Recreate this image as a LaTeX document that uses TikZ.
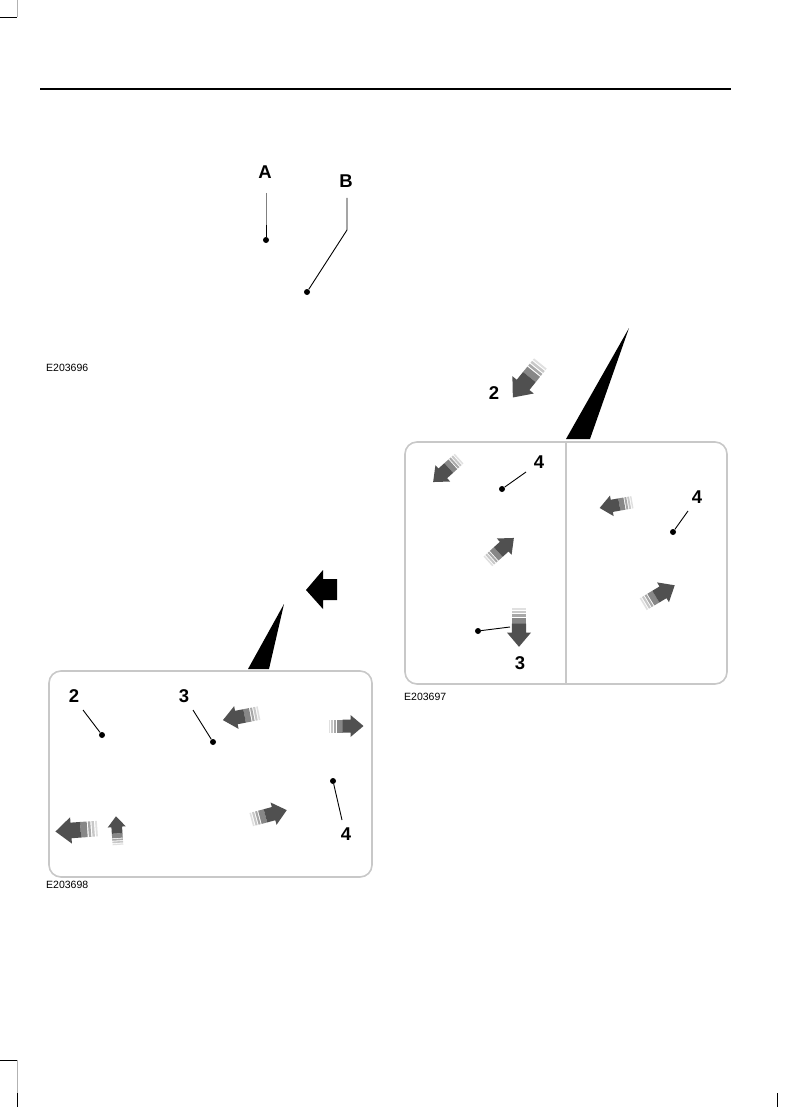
\documentclass[tikz,border=0pt]{standalone}
\usepackage{fontspec}
\setmainfont{Liberation Sans}
\definecolor{adark}{HTML}{505050}
\definecolor{amid}{HTML}{878787}
\definecolor{alight}{HTML}{A8A8A8}
\definecolor{alighter}{HTML}{C8C8C8}
\definecolor{afaint}{HTML}{E0E0E0}
\definecolor{panelgray}{HTML}{C8C8C8}
\tikzset{
  sarrow/.pic={
    \fill[afaint] (-17,-6.5) rectangle (-15.5,6.5);
    \fill[alighter] (-14.5,-6.5) rectangle (-12.5,6.5);
    \fill[alight] (-11.5,-6.5) rectangle (-9.5,6.5);
    \fill[amid] (-8.5,-6.5) rectangle (-3,6.5);
    \fill[adark] (-3,-6.5) -- (5,-6.5) -- (5,-11) -- (18,0) -- (5,11) -- (5,6.5) -- (-3,6.5) -- cycle;
  }
}
\begin{document}
\begin{tikzpicture}[x=1pt,y=-1pt,
  lab/.style={font=\fontsize{18.5}{21}\selectfont\bfseries, inner sep=0pt},
  code/.style={font=\fontsize{10.5}{12}\selectfont, inner sep=0pt, anchor=west},
  dot/.style={circle, fill=black, inner sep=0pt, minimum size=6pt},
  lead/.style={line width=0.9pt},
  panel/.style={draw=panelgray, line width=1.6pt, rounded corners=12pt},
  wedge/.style={fill=black},
  crop/.style={line width=0.8pt}]
\useasboundingbox (0,0) rectangle (795,1107);
\fill[white] (0,0) rectangle (795,1107);

% crop marks and header rule
\draw[crop] (0,17) -- (17,17);
\draw[gray!60, line width=0.4pt] (17,0) -- (17,17);
\draw[crop] (0,1060) -- (17,1060);
\draw[gray!60, line width=0.4pt] (17,1060) -- (17,1107);
\draw[crop] (17,1093) -- (17,1107);
\draw[crop] (777,1093) -- (777,1107);
\draw[line width=1.3pt] (40,89) -- (731,89);

% ---- figure E203696 ----
\node[lab] (lA) at (265,172) {A};
\node[lab] (lB) at (346,181) {B};
\node[dot] (dA) at (266,240) {};
\node[dot] (dB) at (307,292) {};
\coordinate (cA) at (266,193);
\coordinate (cAm) at (266,225);
\coordinate (cB) at (347,198);
\coordinate (cBk) at (347,230);
\draw[lead, gray] (cA) -- (cAm);
\draw[lead] (cAm) -- (dA);
\draw[lead] (cB) -- (cBk) -- (dB);
\node[code] (e1) at (46,368) {E203696};

% ---- figure E203697 (right) ----
\fill[wedge] (629,328) -- (590,439) -- (566,439) -- cycle;
\pic[rotate=231, scale=1.25] at (527,380) {sarrow};
\node[lab] (r2) at (494,393) {2};
\draw[panel] (405,442) rectangle (727,684);
\draw[draw=panelgray, line width=1.6pt] (566,442) -- (566,684);
\pic[rotate=222] at (446.5,470) {sarrow};
\pic[rotate=42] at (500.5,550) {sarrow};
\pic[rotate=270, scale=1.1] at (519,627) {sarrow};
\pic[rotate=190, scale=0.95] at (616.5,505) {sarrow};
\pic[rotate=31, scale=1.05] at (658.5,595) {sarrow};
\node[lab] (r4a) at (539,462) {4};
\node[dot] (rd4a) at (502,489) {};
\coordinate (rc4a) at (526,472);
\draw[lead] (rc4a) -- (rd4a);
\node[lab] (r4b) at (697,497) {4};
\node[dot] (rd4b) at (673,532) {};
\coordinate (rc4b) at (688,511);
\draw[lead] (rc4b) -- (rd4b);
\node[lab] (r3) at (520,663) {3};
\node[dot] (rd3) at (478,631) {};
\coordinate (rc3) at (510,627);
\draw[lead] (rd3) -- (rc3);
\node[code] (e2) at (404,697) {E203697};

% ---- figure E203698 (left) ----
\fill[black] (306,590) -- (323,570) -- (323,579) -- (337,579) -- (337,600) -- (323,600) -- (323,609) -- cycle;
\fill[wedge] (284,604) -- (269,669) -- (248,669) -- cycle;
\draw[panel] (49,671) rectangle (372,877);
\pic[rotate=191, scale=1.05] at (241.5,716.5) {sarrow};
\pic[rotate=0] at (345.5,726) {sarrow};
\pic[rotate=15, scale=1.05] at (268.5,815) {sarrow};
\pic[rotate=184, scale=1.2] at (77,830) {sarrow};
\pic[rotate=94, scale=0.82] at (117,831) {sarrow};
\node[lab] (l2) at (74,696) {2};
\node[dot] (ld2) at (102,735) {};
\coordinate (lc2) at (83,710);
\draw[lead] (lc2) -- (ld2);
\node[lab] (l3) at (184,696) {3};
\node[dot] (ld3) at (213,742) {};
\coordinate (lc3) at (193,710);
\draw[lead] (lc3) -- (ld3);
\node[lab] (l4) at (346,834) {4};
\node[dot] (ld4) at (333,781) {};
\coordinate (lc4) at (342,820);
\draw[lead] (lc4) -- (ld4);
\node[code] (e3) at (46,885) {E203698};
\end{tikzpicture}
\end{document}
